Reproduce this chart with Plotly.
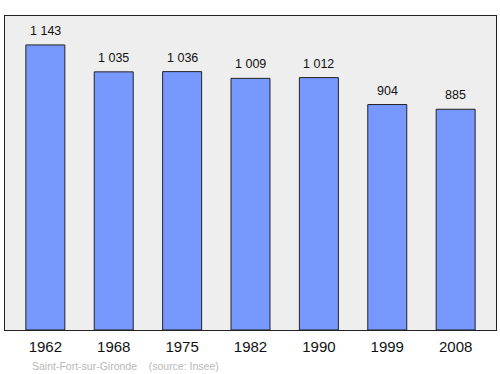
import plotly.graph_objects as go

years = ["1962", "1968", "1975", "1982", "1990", "1999", "2008"]
population = [1143, 1035, 1036, 1009, 1012, 904, 885]
value_labels = ["1 143", "1 035", "1 036", "1 009", "1 012", "904", "885"]
source_text = "Saint-Fort-sur-Gironde    (source: Insee)"

fig = go.Figure()
fig.add_trace(go.Bar(
    x=years, y=population, width=0.57,
    marker=dict(color="#7799ff", line=dict(color="#222222", width=1)),
    hoverinfo="skip",
))
for i, (v, lab) in enumerate(zip(population, value_labels)):
    fig.add_annotation(x=i, y=v, text=lab, showarrow=False, yanchor="bottom",
                       yshift=5, font=dict(size=12.5, color="#111111", family="Liberation Sans, Arial"))
fig.add_annotation(xref="paper", yref="paper", x=0.051, y=-0.09, xanchor="left", yanchor="top",
                   text=source_text, showarrow=False,
                   font=dict(size=10.5, color="#b8b8b8", family="Liberation Sans, Arial"))
fig.update_layout(
    width=500, height=374,
    margin=dict(l=5, r=4, t=16, b=44),
    paper_bgcolor="white", plot_bgcolor="#eeeeee",
    showlegend=False,
    xaxis=dict(type="category", range=[-0.59, 6.59], showline=True, mirror=True, linecolor="#222222",
               linewidth=1, ticks="", showgrid=False, ticklabelstandoff=3,
               tickfont=dict(size=15, color="#111111", family="Liberation Sans, Arial")),
    yaxis=dict(range=[0, 1259], showline=True, mirror=True, linecolor="#222222", linewidth=1,
               showticklabels=False, showgrid=False, zeroline=False, ticks=""),
)
fig.write_html("out.html")
